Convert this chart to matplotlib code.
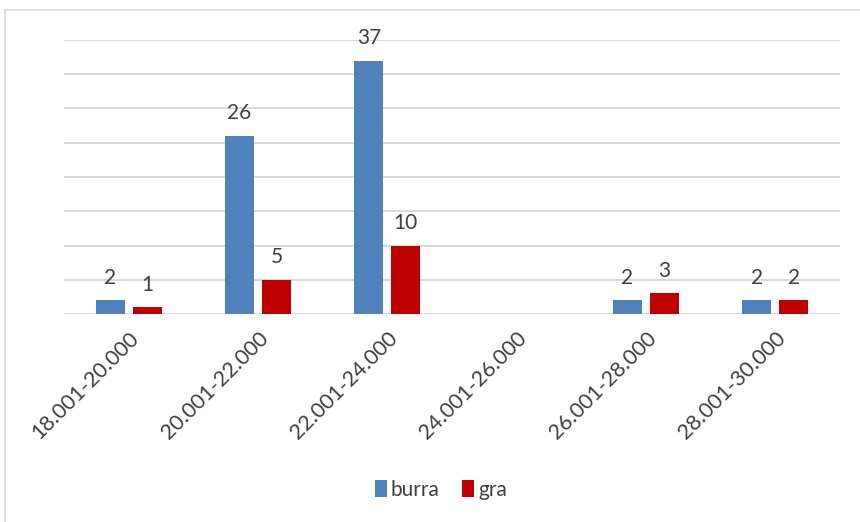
import numpy as np
import matplotlib
matplotlib.use("Agg")
import matplotlib.pyplot as plt
from matplotlib.lines import Line2D

categories = ["18.001-20.000", "20.001-22.000", "22.001-24.000",
              "24.001-26.000", "26.001-28.000", "28.001-30.000"]
burra = [2, 26, 37, 0, 2, 2]
gra = [1, 5, 10, 0, 3, 2]

plt.rcParams['font.family'] = ['Lato', 'DejaVu Sans']
text_color = '#404040'
grid_color = '#d9d9d9'

fig = plt.figure(figsize=(8.6, 5.22), dpi=100)
ax = fig.add_axes([64 / 860, 1 - 314 / 522, 776 / 860, 274 / 522])

x = np.arange(len(categories))
w = 0.225
off = 0.143
b1 = ax.bar(x - off, burra, w, color='#4f81bd', zorder=3)
b2 = ax.bar(x + off, gra, w, color='#c00000', zorder=3)

for bars, vals in ((b1, burra), (b2, gra)):
    for rect, v in zip(bars, vals):
        if v == 0:
            continue
        ax.annotate(str(v), (rect.get_x() + rect.get_width() / 2, v),
                    xytext=(0, 9), textcoords='offset points',
                    ha='center', va='bottom', fontsize=15, color=text_color)

ax.set_xlim(-0.5, len(categories) - 0.5)
ax.set_ylim(0, 40)
ax.set_yticks(np.arange(0, 41, 5))
ax.yaxis.grid(True, color=grid_color, linewidth=1.4, zorder=0)
ax.tick_params(axis='y', left=False, labelleft=False)
ax.tick_params(axis='x', length=0, pad=10)
ax.set_xticks(x)
ax.set_xticklabels(categories, rotation=45, ha='right', va='top',
                   rotation_mode='anchor', fontsize=15.5, color=text_color)
for s in ax.spines.values():
    s.set_visible(False)

ax.legend([b1, b2], ['burra', 'gra'], loc='center', bbox_to_anchor=(441 / 860, 1 - 490 / 522),
          bbox_transform=fig.transFigure, ncol=2, frameon=False, fontsize=15,
          handlelength=0.55, handleheight=0.9, handletextpad=0.2, columnspacing=1.1,
          labelcolor=text_color)

# outer chart border (only top and left visible in the crop)
fig.add_artist(Line2D([5 / 860, 1], [1 - 10 / 522, 1 - 10 / 522],
                      transform=fig.transFigure, color=grid_color, linewidth=1.2))
fig.add_artist(Line2D([5 / 860, 5 / 860], [0, 1 - 10 / 522],
                      transform=fig.transFigure, color=grid_color, linewidth=1.2))

fig.savefig('out.png', dpi=100)
